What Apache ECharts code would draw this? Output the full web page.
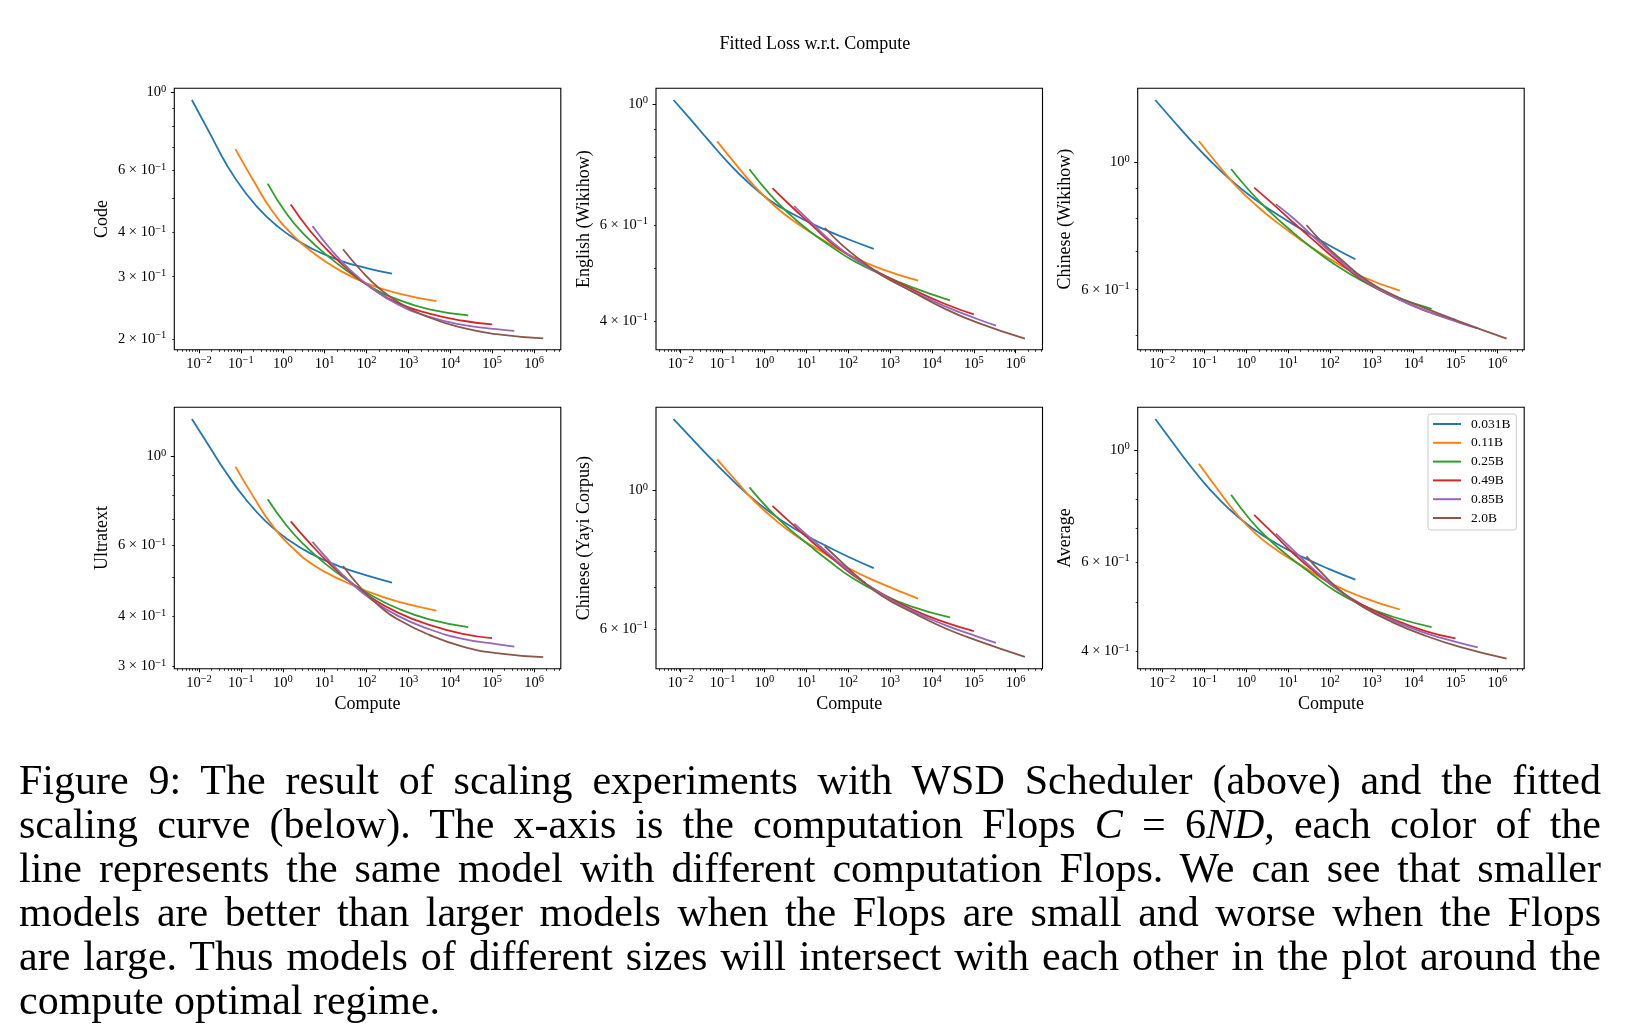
<!DOCTYPE html>
<html><head><meta charset="utf-8">
<script src="https://cdn.jsdelivr.net/npm/echarts@6/dist/echarts.min.js"></script>
<style>
html,body{margin:0;padding:0;background:#fff;}
#chart{position:absolute;left:0;top:0;width:1629px;height:1032px;}
#caption{position:absolute;left:19px;top:759px;width:1582px;transform-origin:0 0;font-family:"Liberation Serif",serif;font-size:42px;line-height:43.9px;color:#000;}
#caption div{white-space:nowrap;text-align:justify;text-align-last:justify;}
#caption div.last{text-align-last:left;}
#caption.measure div{text-align:left;text-align-last:left;}
</style></head><body>
<div id="chart"></div>
<div id="caption">
<div><span>Figure 9: The result of scaling experiments with WSD Scheduler (above) and the fitted</span></div>
<div><span>scaling curve (below). The x-axis is the computation Flops <i>C</i> = 6<i>ND</i>, each color of the</span></div>
<div><span>line represents the same model with different computation Flops. We can see that smaller</span></div>
<div><span>models are better than larger models when the Flops are small and worse when the Flops</span></div>
<div><span>are large. Thus models of different sizes will intersect with each other in the plot around the</span></div>
<div class="last"><span>compute optimal regime.</span></div>
</div>
<script>
// ---- data ----
const modelNames = ['0.031B', '0.11B', '0.25B', '0.49B', '0.85B', '2.0B'];
const modelColors = ['#1f77b4', '#ff7f0e', '#2ca02c', '#d62728', '#9467bd', '#8c564b'];

// compute (x) sample positions for each model curve
const compute031 = [0.00676, 0.0178, 0.0447, 0.126, 0.398, 1.41, 5.01, 22.4, 100, 407];
const compute011 = [0.0741, 0.2, 0.562, 1.78, 5.62, 22.4, 100, 562, 4677];
const compute025 = [0.437, 1.26, 3.55, 11.2, 35.5, 126, 562, 3162, 26900];
const compute049 = [1.55, 4.47, 14.1, 39.8, 126, 562, 3162, 19950, 100000];
const compute085 = [5.13, 14.1, 39.8, 126, 562, 3162, 19950, 125900, 338800];
const compute20  = [27.5, 70.8, 200, 631, 3162, 19950, 125900, 1660000];

// Code
const code031 = [0.951, 0.769, 0.626, 0.521, 0.4454, 0.394, 0.36, 0.334, 0.3174, 0.306];
const code011 = [0.69, 0.5614, 0.4609, 0.3926, 0.349, 0.3132, 0.2873, 0.2691, 0.2557];
const code025 = [0.551, 0.451, 0.391, 0.3455, 0.311, 0.281, 0.2585, 0.2425, 0.233];
const code049 = [0.481, 0.4052, 0.3488, 0.3113, 0.2797, 0.2526, 0.2358, 0.2251, 0.2197];
const code085 = [0.418, 0.3583, 0.3143, 0.2801, 0.2502, 0.2307, 0.2191, 0.2131, 0.2108];
const code20  = [0.359, 0.3145, 0.2783, 0.2524, 0.2299, 0.2147, 0.2062, 0.2005];

// English (Wikihow)
const enWiki031 = [1.017, 0.934, 0.8603, 0.786, 0.7194, 0.6642, 0.6272, 0.5926, 0.5649, 0.5425];
const enWiki011 = [0.854, 0.7774, 0.7083, 0.6495, 0.6062, 0.566, 0.5297, 0.4996, 0.4746];
const enWiki025 = [0.759, 0.687, 0.633, 0.587, 0.551, 0.517, 0.489, 0.462, 0.4365];
const enWiki049 = [0.701, 0.648, 0.598, 0.556, 0.523, 0.490, 0.4585, 0.4303, 0.4114];
const enWiki085 = [0.650, 0.6032, 0.5596, 0.5229, 0.488, 0.4546, 0.4259, 0.403, 0.3923];
const enWiki20  = [0.593, 0.5515, 0.517, 0.4853, 0.454, 0.4215, 0.3967, 0.3712];

// Chinese (Wikihow)
const zhWiki031 = [1.285, 1.1847, 1.0985, 1.0141, 0.9367, 0.8692, 0.8156, 0.7628, 0.7161, 0.678];
const zhWiki011 = [1.09, 0.9961, 0.9112, 0.8406, 0.7846, 0.7291, 0.6786, 0.6333, 0.598];
const zhWiki025 = [0.974, 0.8892, 0.8226, 0.7626, 0.7117, 0.6653, 0.6229, 0.5863, 0.5557];
const zhWiki049 = [0.904, 0.845, 0.783, 0.733, 0.6815, 0.6257, 0.5839, 0.5506, 0.5315];
const zhWiki085 = [0.846, 0.797, 0.743, 0.689, 0.628, 0.5843, 0.551, 0.5253, 0.5139];
const zhWiki20  = [0.778, 0.722, 0.674, 0.629, 0.588, 0.556, 0.528, 0.493];

// Ultratext
const ultra031 = [1.241, 1.0581, 0.9114, 0.7866, 0.6891, 0.6187, 0.5711, 0.5331, 0.5059, 0.4857];
const ultra011 = [0.944, 0.7938, 0.674, 0.5903, 0.5358, 0.4953, 0.4624, 0.4352, 0.4136];
const ultra025 = [0.783, 0.6715, 0.5973, 0.5373, 0.4918, 0.4523, 0.4184, 0.3932, 0.3759];
const ultra049 = [0.690, 0.608, 0.537, 0.4885, 0.4463, 0.4088, 0.381, 0.3618, 0.3529];
const ultra085 = [0.613, 0.5445, 0.4885, 0.442, 0.4011, 0.3716, 0.3516, 0.341, 0.3364];
const ultra20  = [0.534, 0.4727, 0.4248, 0.3905, 0.3597, 0.3364, 0.3238, 0.3165];

// Chinese (Yayi Corpus)
const yayi031 = [1.302, 1.2143, 1.1376, 1.0602, 0.986, 0.921, 0.8699, 0.8229, 0.7831, 0.7509];
const yayi011 = [1.122, 1.040, 0.963, 0.898, 0.846, 0.799, 0.751, 0.711, 0.671];
const yayi025 = [1.012, 0.934, 0.873, 0.819, 0.770, 0.724, 0.685, 0.652, 0.626];
const yayi049 = [0.945, 0.885, 0.826, 0.780, 0.733, 0.687, 0.646, 0.615, 0.595];
const yayi085 = [0.885, 0.8335, 0.7849, 0.7359, 0.6849, 0.6424, 0.609, 0.5826, 0.5699];
const yayi20  = [0.814, 0.767, 0.720, 0.678, 0.639, 0.602, 0.574, 0.541];

// Average
const avg031 = [1.151, 1.033, 0.9335, 0.8416, 0.7632, 0.7002, 0.6546, 0.6138, 0.5808, 0.554];
const avg011 = [0.939, 0.84, 0.751, 0.68, 0.632, 0.589, 0.546, 0.5125, 0.4837];
const avg025 = [0.815, 0.727, 0.665, 0.613, 0.57, 0.528, 0.494, 0.468, 0.4465];
const avg049 = [0.744, 0.683, 0.622, 0.5775, 0.536, 0.4955, 0.463, 0.438, 0.424];
const avg085 = [0.683, 0.631, 0.582, 0.537, 0.492, 0.4597, 0.434, 0.4155, 0.407];
const avg20  = [0.616, 0.566, 0.523, 0.489, 0.4563, 0.4288, 0.408, 0.3867];

// tick values
const xMajorTicks = [0.01, 0.1, 1, 10, 100, 1000, 10000, 100000, 1000000];
const yMinorTicks = [0.2, 0.3, 0.4, 0.5, 0.6, 0.7, 0.8, 0.9];
const yLabelsCode = [0.2, 0.3, 0.4, 0.6, 1];
const yLabelsEn = [0.4, 0.6, 1];
const yLabelsZhWiki = [0.6, 1];
const yLabelsUltra = [0.3, 0.4, 0.6, 1];
const yLabelsYayi = [0.6, 1];
const yLabelsAvg = [0.4, 0.6, 1];

// ---- build ----
const computes = [compute031, compute011, compute025, compute049, compute085, compute20];
const FONT = '"Liberation Serif", "Times New Roman", serif';
const xMin = 0.00257, xMax = 4.365e6;
const xMinor = [];
for (let k = -3; k <= 6; k++) for (let m = 2; m <= 9; m++) xMinor.push(+(m * Math.pow(10, k)).toPrecision(3));

const panels = [
  {name: 'Code', losses: [code031, code011, code025, code049, code085, code20], yMin: 0.1862, yMax: 1.0266, yLabels: yLabelsCode, left: 174.3, top: 88.3, xName: false},
  {name: 'English (Wikihow)', losses: [enWiki031, enWiki011, enWiki025, enWiki049, enWiki085, enWiki20], yMin: 0.3542, yMax: 1.0686, yLabels: yLabelsEn, left: 656, top: 88.3, xName: false},
  {name: 'Chinese (Wikihow)', losses: [zhWiki031, zhWiki011, zhWiki025, zhWiki049, zhWiki085, zhWiki20], yMin: 0.4714, yMax: 1.347, yLabels: yLabelsZhWiki, left: 1137.7, top: 88.3, xName: false},
  {name: 'Ultratext', losses: [ultra031, ultra011, ultra025, ultra049, ultra085, ultra20], yMin: 0.2961, yMax: 1.327, yLabels: yLabelsUltra, left: 174.3, top: 407.3, xName: true},
  {name: 'Chinese (Yayi Corpus)', losses: [yayi031, yayi011, yayi025, yayi049, yayi085, yayi20], yMin: 0.5177, yMax: 1.360, yLabels: yLabelsYayi, left: 656, top: 407.3, xName: true},
  {name: 'Average', losses: [avg031, avg011, avg025, avg049, avg085, avg20], yMin: 0.3693, yMax: 1.214, yLabels: yLabelsAvg, left: 1137.7, top: 407.3, xName: true}
];

const rich = {
  b: {fontFamily: FONT, fontSize: 14.5, lineHeight: 18, color: '#000'},
  s: {fontFamily: FONT, fontSize: 10.5, lineHeight: 10, verticalAlign: 'top', color: '#000'}
};
function expStr(e) { return e < 0 ? '\u2212' + (-e) : '' + e; }
function xFmt(v) { const e = Math.round(Math.log10(v)); return '{b|10}{s|' + expStr(e) + '}'; }
function yFmt(v) {
  if (Math.abs(v - 1) < 1e-6) return '{b|10}{s|0}';
  return '{b|' + Math.round(v * 10) + ' \u00d7 10}{s|\u22121}';
}

const grid = [], xAxis = [], yAxis = [], series = [];
panels.forEach((p, i) => {
  grid.push({left: p.left, top: p.top, width: 386.5, height: 261.5, show: true, borderColor: '#000', borderWidth: 1.1,
    backgroundColor: 'rgba(0,0,0,0)', containLabel: false, outerBoundsMode: 'none'});
  xAxis.push({type: 'log', gridIndex: i, position: 'bottom', min: xMin, max: xMax, logBase: 10,
    name: p.xName ? 'Compute' : '', nameLocation: 'middle', nameGap: 26,
    nameTextStyle: {fontFamily: FONT, fontSize: 18, color: '#000'},
    axisLine: {show: false}, splitLine: {show: false}, minorTick: {show: false},
    axisTick: {show: true, length: 3.5, lineStyle: {color: '#000', width: 1}, customValues: xMajorTicks},
    axisLabel: {show: true, margin: 5, customValues: xMajorTicks, formatter: xFmt, rich: rich, fontFamily: FONT}
  });
  xAxis.push({type: 'log', gridIndex: i, position: 'bottom', min: xMin, max: xMax, logBase: 10,
    axisLine: {show: false}, splitLine: {show: false}, axisLabel: {show: false},
    axisTick: {show: true, length: 2, lineStyle: {color: '#000', width: 0.8}, customValues: xMinor}
  });
  yAxis.push({type: 'log', gridIndex: i, position: 'left', min: p.yMin, max: p.yMax, logBase: 10,
    name: p.name, nameLocation: 'middle', nameGap: 63, nameRotate: 90,
    nameTextStyle: {fontFamily: FONT, fontSize: 18, color: '#000'},
    axisLine: {show: false}, splitLine: {show: false},
    axisTick: {show: true, length: 3.5, lineStyle: {color: '#000', width: 1}, customValues: [1]},
    axisLabel: {show: true, margin: 8, customValues: p.yLabels, formatter: yFmt, rich: rich, fontFamily: FONT}
  });
  yAxis.push({type: 'log', gridIndex: i, position: 'left', min: p.yMin, max: p.yMax, logBase: 10,
    axisLine: {show: false}, splitLine: {show: false}, axisLabel: {show: false},
    axisTick: {show: true, length: 2, lineStyle: {color: '#000', width: 0.8}, customValues: yMinorTicks}
  });
  p.losses.forEach((ys, m) => {
    const xs = computes[m];
    series.push({
      type: 'line', name: modelNames[m], xAxisIndex: 2 * i, yAxisIndex: 2 * i,
      data: xs.map((x, k) => [x, ys[k]]),
      showSymbol: false, symbol: 'none', smooth: 0.5,
      lineStyle: {width: 1.8, color: modelColors[m]}, itemStyle: {color: modelColors[m]},
      silent: true, animation: false
    });
  });
});

const chart = echarts.init(document.getElementById('chart'), null, {renderer: 'canvas'});
chart.setOption({
  animation: false,
  backgroundColor: '#fff',
  title: {text: 'Fitted Loss w.r.t. Compute', left: 809.8, top: 30, textAlign: 'center',
    textStyle: {fontFamily: FONT, fontSize: 18, fontWeight: 'normal', color: '#000'}},
  legend: {data: modelNames, orient: 'vertical', left: 1428, top: 414, icon: 'rect', itemWidth: 28, itemHeight: 2,
    itemGap: 4.8, padding: [3, 6, 5, 5], borderColor: '#cccccc', borderWidth: 1, borderRadius: 3,
    backgroundColor: 'rgba(255,255,255,0.8)',
    textStyle: {fontFamily: FONT, fontSize: 13.5, color: '#000', lineHeight: 14, padding: [0, 0, 0, 5]}},
  grid: grid, xAxis: xAxis, yAxis: yAxis, series: series
});

// caption: condense the serif text horizontally so the longest line fits the text block
(function fitCaption() {
  const cap = document.getElementById('caption');
  const boxW = 1582;
  cap.classList.add('measure');
  let maxW = 0;
  cap.querySelectorAll('span').forEach(s => { maxW = Math.max(maxW, s.getBoundingClientRect().width); });
  cap.classList.remove('measure');
  const sc = Math.min(1, boxW / (maxW * 1.01));
  cap.style.width = (boxW / sc) + 'px';
  cap.style.transform = 'scaleX(' + sc + ')';
})();
</script>
</body></html>
